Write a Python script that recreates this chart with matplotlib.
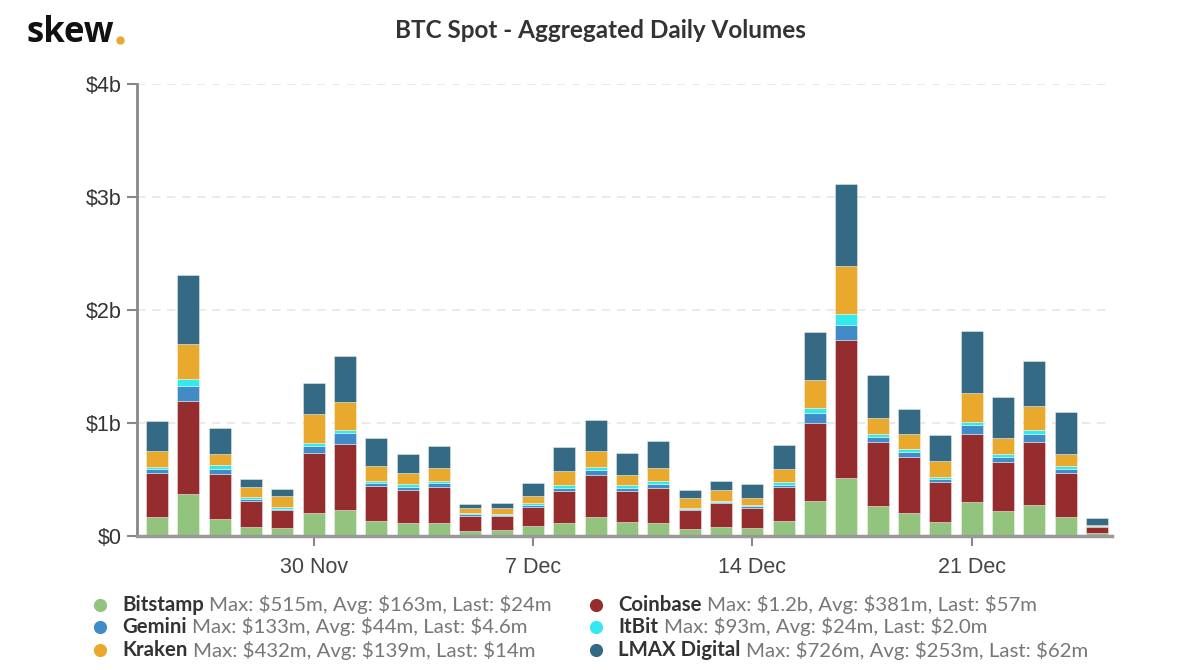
import matplotlib
matplotlib.use("Agg")
import matplotlib.pyplot as plt
from matplotlib.lines import Line2D
from matplotlib.text import Annotation
import numpy as np

# ---- data (values in $m) ----
dates = ["25 Nov", "26 Nov", "27 Nov", "28 Nov", "29 Nov", "30 Nov", "1 Dec", "2 Dec",
         "3 Dec", "4 Dec", "5 Dec", "6 Dec", "7 Dec", "8 Dec", "9 Dec", "10 Dec",
         "11 Dec", "12 Dec", "13 Dec", "14 Dec", "15 Dec", "16 Dec", "17 Dec", "18 Dec",
         "19 Dec", "20 Dec", "21 Dec", "22 Dec", "23 Dec", "24 Dec", "25 Dec"]
bitstamp = [172, 374, 154, 80, 68, 205, 228, 131, 119, 119, 45, 51, 86, 113, 167, 125,
            119, 65, 83, 71, 134, 310, 515, 263, 206, 125, 299, 221, 278, 170, 24]
coinbase = [383, 822, 395, 226, 160, 528, 585, 308, 285, 311, 136, 128, 167, 286, 375, 271,
            304, 161, 206, 173, 301, 687, 1220, 573, 490, 356, 600, 436, 552, 385, 57]
gemini = [35, 130, 47, 23, 15, 62, 95, 27, 26, 36, 15, 9, 24, 30, 38, 33,
          35, 12, 12, 18, 20, 90, 133, 36, 47, 26, 80, 44, 77, 39, 4.6]
itbit = [24, 60, 33, 12, 12, 30, 33, 21, 27, 21, 9, 8, 15, 20, 30, 20,
         27, 12, 9, 9, 27, 47, 93, 29, 27, 18, 33, 27, 33, 24, 2.0]
kraken = [134, 314, 101, 89, 98, 258, 246, 130, 98, 112, 44, 54, 59, 122, 146, 93,
          113, 86, 95, 62, 107, 248, 432, 141, 129, 141, 251, 138, 212, 107, 14]
lmax = [270, 609, 228, 74, 62, 267, 406, 247, 172, 199, 36, 45, 119, 221, 274, 190,
        247, 69, 86, 131, 212, 427, 726, 385, 229, 224, 555, 367, 400, 368, 62]

series_names = ["Bitstamp", "Coinbase", "Gemini", "ItBit", "Kraken", "LMAX Digital"]
series_stats = ["Max: $515m, Avg: $163m, Last: $24m",
                "Max: $1.2b, Avg: $381m, Last: $57m",
                "Max: $133m, Avg: $44m, Last: $4.6m",
                "Max: $93m, Avg: $24m, Last: $2.0m",
                "Max: $432m, Avg: $139m, Last: $14m",
                "Max: $726m, Avg: $253m, Last: $62m"]
series_colors = ["#93C47D", "#952C2E", "#418BC6", "#33E9F0", "#E9A92D", "#346A83"]
y_ticks = [0, 1000, 2000, 3000, 4000]
y_labels = ["$0", "$1b", "$2b", "$3b", "$4b"]
x_tick_labels = ["30 Nov", "7 Dec", "14 Dec", "21 Dec"]

plt.rcParams['font.family'] = ['Lato', 'DejaVu Sans']

W, H = 1200, 670
fig = plt.figure(figsize=(12, 6.7), dpi=100)
ax = fig.add_axes([137 / W, 1 - 536 / H, (1112 - 137) / W, (536 - 84) / H])

x = np.arange(len(dates))
bottom = np.zeros(len(dates))
for vals, col in zip([bitstamp, coinbase, gemini, itbit, kraken, lmax], series_colors):
    v = np.array(vals, dtype=float)
    ax.bar(x, v, bottom=bottom, width=0.70, color=col,
           edgecolor=(1, 1, 1, 0.45), linewidth=0.6, zorder=3)
    bottom += v

tick_font = ['Liberation Sans', 'DejaVu Sans']
ax.set_xlim(-0.64, 30.48)
ax.set_ylim(0, 4000)
ax.set_yticks(y_ticks)
ax.set_yticklabels(y_labels, fontsize=15.5, color="#333333", family=tick_font)
tick_pos = [dates.index(d) for d in x_tick_labels]
ax.set_xticks(tick_pos)
ax.set_xticklabels(x_tick_labels, fontsize=15.5, color="#444444", family=tick_font)
ax.tick_params(axis='x', length=7, width=1.5, color="#888888", pad=8, direction='out')
ax.tick_params(axis='y', length=7, width=1.5, color="#888888", pad=4, direction='out')

for yv in y_ticks[1:]:
    ax.axhline(yv, color="#e6e6e6", linestyle=(0, (5, 4)), linewidth=1.2, zorder=1)

for s in ["top", "right"]:
    ax.spines[s].set_visible(False)
ax.spines["left"].set_color("#888888")
ax.spines["left"].set_linewidth(2)
ax.spines["bottom"].set_color("#999999")
ax.spines["bottom"].set_linewidth(2.5)
ax.spines["bottom"].set_zorder(4)

# title and logo
fig.text(600 / W, 1 - 31 / H, "BTC Spot - Aggregated Daily Volumes", ha="center", va="center",
         fontsize=17.5, fontweight="bold", color="#333333")
fig.text(27 / W, 1 - 33 / H, "skew", ha="left", va="center", fontsize=25,
         fontweight="bold", color="#111111", family=["Open Sans", "DejaVu Sans"])
fig.add_artist(Line2D([120 / W], [1 - 40 / H], marker="o", markersize=6, color="#E9A92D",
                      markeredgewidth=0, transform=fig.transFigure))

# legend
legend_pos = [(100, 605), (596, 605), (100, 627), (596, 627), (100, 650), (596, 650)]
for (px, py), name, stats, col in zip(legend_pos, series_names, series_stats, series_colors):
    fig.add_artist(Line2D([px / W], [1 - py / H], marker="o", markersize=9.5, color=col,
                          markeredgewidth=0, transform=fig.transFigure))
    t = fig.text((px + 22) / W, 1 - py / H, name, ha="left", va="center", fontsize=14.7,
                 fontweight="bold", color="#333333")
    fig.add_artist(Annotation(stats, xy=(1, 0.5), xycoords=t,
                              xytext=(4, 0), textcoords="offset points",
                              ha="left", va="center", fontsize=14.7, color="#777777"))

fig.savefig("out.png", dpi=100, facecolor="white")
